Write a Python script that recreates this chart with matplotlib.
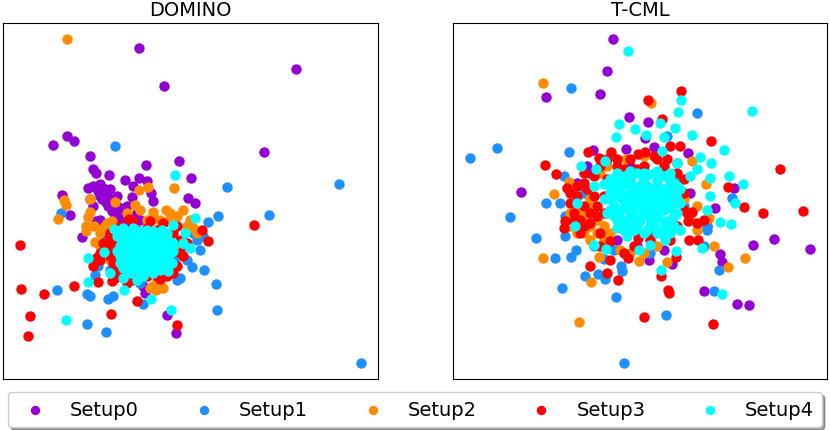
import matplotlib
matplotlib.use("Agg")
import matplotlib.pyplot as plt
import numpy as np

LABELS = ["Setup0", "Setup1", "Setup2", "Setup3", "Setup4"]
COLORS = ["darkviolet", "dodgerblue", "darkorange", "red", "cyan"]

# DOMINO embedding (2-D, arbitrary units)
domino_s0 = [(41.7, 99.2), (88.7, 93.1), (49.3, 87.9), (79.3, 68.2), (20.3, 73.1), (22.4, 71.4),
             (16.0, 70.2), (27.0, 67.1), (43.7, 64.4), (53.7, 65.4), (57.2, 60.3), (28.1, 63.0),
             (29.0, 61.8), (32.6, 61.2), (37.5, 59.9), (41.7, 60.4), (44.0, 59.6), (26.6, 57.5),
             (30.0, 58.5), (40.0, 58.0), (45.2, 56.0), (18.6, 55.2), (56.5, 54.3), (58.5, 53.0),
             (39.5, 54.8), (46.0, 53.5), (21.1, 49.5), (24.7, 42.8), (50.0, 19.5), (52.7, 14.0),
             (43.5, 26.0), (29.5, 56.5), (31, 56), (32, 55), (33, 54), (34, 53), (34.5, 52),
             (35.5, 51), (36, 50), (37, 49), (38, 48), (30, 55), (31.5, 53.5), (32.5, 52),
             (33.5, 50.5), (29, 47.5), (30, 48), (41, 50), (42, 48), (42, 29), (43, 28), (31, 44),
             (28, 58), (31, 57.5), (30.5, 54), (32, 53), (33, 52.5), (35, 52), (36, 51.5), (37, 51),
             (34.5, 49), (36, 48), (38, 47), (37.5, 46.5), (39, 49), (27, 54), (28, 52), (33, 57),
             (35, 55), (38, 52)]
domino_s1 = [(34.5, 70.0), (68.0, 57.8), (101.5, 58.5), (80.7, 49.4), (65.5, 49.2), (62.5, 47.3),
             (18.5, 50.0), (60, 39), (57.5, 33.8), (61.2, 32.8), (64.9, 28.7), (65.2, 20.8),
             (108.1, 5.0), (17.2, 26.8), (26.3, 25.8), (27, 25), (32.5, 24.2), (34, 25.2),
             (26.3, 16.8), (31.9, 14.5), (42.8, 22.7), (53, 30), (54, 30.5), (52.5, 35), (56, 36),
             (59, 42), (61, 43), (58, 44), (28.5, 31.5), (29.5, 34), (33, 33), (56, 40), (52, 36),
             (40, 30), (42, 29)]
domino_s2 = [(20.1, 102), (52.1, 57.5), (44.5, 57.8), (41.8, 56.9), (19.3, 53.7), (19.8, 52.5),
             (17.4, 48.3), (27.2, 54), (34.4, 53.2), (40.5, 52.5), (27, 50.2), (26.5, 48.8),
             (45.8, 50.3), (49.7, 51), (51, 50), (54.8, 50.9), (57, 48), (50.5, 47.5), (25.8, 44.6),
             (28.2, 46), (31.3, 45.7), (33.7, 47.5), (44, 48), (28.7, 41.2), (30, 40), (58, 45.5),
             (59, 44), (33, 36), (32, 38), (46.7, 26.8), (46, 28), (48, 29), (51, 38), (53, 39),
             (38, 50), (42, 51), (46, 49), (48, 48), (53, 49), (56, 46), (26, 46), (30, 44),
             (32, 47), (55, 42), (47, 30), (45, 27.5), (49, 27.5)]
domino_s3 = [(6.1, 40.3), (6.5, 27.2), (13.3, 25.8), (9.2, 19.1), (8.6, 13.3), (22.3, 28),
             (29.5, 29.3), (33.3, 19.7), (41, 23.7), (53, 16.5), (76.2, 46.5), (60.7, 45),
             (62.5, 41.5), (38.8, 48.2), (28, 34.2), (29, 36.5), (30, 38), (33, 39), (34, 37),
             (35, 34), (36, 32), (33.5, 29.5), (37, 31), (40, 32), (43, 33), (46, 33.5), (48, 30.2),
             (50, 34), (52, 32), (54, 38), (54, 42), (52, 44), (47, 45), (44, 45.5), (41, 45),
             (35, 43), (34, 41), (33, 42), (36, 36), (38, 34), (42, 34), (49, 32), (35.5, 33),
             (34.5, 30.5), (32, 40), (33, 37), (34, 35), (36, 31), (39, 30), (44, 31), (47, 31),
             (50, 31), (53, 34), (55, 37), (56, 41), (53, 46), (49, 47), (45, 47.5), (40, 47.5),
             (36, 46), (33, 44), (31, 41), (30, 36), (38, 29), (42, 31)]
domino_s4 = [(52.5, 61.4), (58.4, 48.5), (20, 18), (51.2, 21), (45.3, 24.2), (37.2, 26.9),
             (26.5, 29.4), (26.6, 36.4), (31.3, 38.3), (33, 32), (37, 30.5), (41, 30), (43, 31),
             (46, 32), (50.5, 32.5), (52, 46.5), (55.5, 44), (57, 39.5), (55, 41), (51.8, 40.2),
             (34.2, 45.2), (36.8, 45.5), (40, 45.5), (44, 45), (48.5, 45),
             (35, 43), (36, 40), (37, 38), (38, 36), (39, 34), (40, 43), (41, 40), (42, 38),
             (43, 36), (44, 34), (45, 42), (46, 39), (47, 37), (48, 35), (49, 43), (50, 40),
             (51, 38), (38, 42), (42, 42), (44, 39), (40, 37), (45, 36), (47, 41), (49, 38),
             (36, 37), (41, 33), (43, 42.5), (47.5, 33.5), (39.5, 39), (45.5, 37.5),
             (36.5, 41.5), (38.5, 39.5), (40.5, 41.5), (42.5, 39.5), (44.5, 41.5), (46.5, 40),
             (48.5, 41.5), (50.5, 42), (37.5, 35), (39.5, 36), (41.5, 36), (43.5, 37.5),
             (45.5, 34), (47.5, 38.5), (49.5, 35.5), (51.5, 35), (39, 44.5), (46, 44.5), (52, 41),
             (35, 38.5), (41, 44), (45, 40), (42.5, 32.5), (39, 32), (44, 32.5),
             (37, 43.5), (39, 41), (41, 42.5), (43, 40.5), (45, 43.5), (47, 42.5), (49, 40.5),
             (51, 40), (36, 39), (38, 37.5), (40, 39), (42, 36.5), (44, 37), (46, 36), (48, 37),
             (50, 37.5), (37, 33.5), (40, 34.5), (43, 34.5), (46, 34.5), (48, 33), (50, 34),
             (38, 44), (41, 38), (44, 43), (47, 44), (50, 44), (42, 44.5), (36, 35), (52, 38.5)]

# T-CML embedding
tcml_s0 = [(48.8, 101.9), (47, 92.3), (28.6, 84.6), (44.9, 85.6), (53.7, 78.7), (59.4, 77.2),
           (58.5, 72.5), (52.6, 69.2), (42.8, 68.7), (61, 69.8), (71.2, 67.8), (21.3, 56.2),
           (85.2, 57.3), (79.3, 51.4), (90.9, 40.4), (97, 42.3), (107.9, 39.1), (80.8, 37.6),
           (81.5, 35.3), (76, 26.6), (86, 22.8), (89.5, 22.3), (59.6, 36), (66.5, 34.7), (64, 39),
           (41, 64), (38, 59), (42, 62), (54, 64), (77, 46), (72, 56), (56, 40), (50, 42)]
tcml_s1 = [(5.8, 66.5), (13.9, 69.5), (36.2, 87.3), (74, 80), (35.6, 68.3), (28.6, 53.1),
           (18, 48.7), (25.6, 42.6), (31.3, 36.6), (36.2, 36.7), (37.7, 39), (33.4, 27.5),
           (40.3, 31), (44.3, 31.7), (46.5, 30.3), (49.6, 24.8), (51.2, 34), (51.5, 32.5),
           (46.2, 36.3), (64.8, 19.5), (52.2, 5), (79, 26.5), (80.5, 33), (84.5, 54.3), (77, 46),
           (77, 45), (34, 61), (33, 53), (34.5, 49), (40, 56), (34.5, 43), (60, 38), (49, 39),
           (68, 60), (65, 73), (76, 40), (43, 40), (38, 52), (70, 52)]
tcml_s2 = [(27.9, 88.9), (60.2, 83), (52.6, 66.2), (31.2, 55.6), (35.5, 59.2), (27.7, 36.6),
           (44.5, 36.7), (42.3, 29.2), (38.6, 17.3), (56.5, 35.7), (65, 35.2), (79, 40.2),
           (83.2, 33.9), (88.5, 36.6), (76.8, 58.6), (72.5, 65.5), (77.5, 48.5), (74, 45), (58, 67),
           (42, 54), (40, 48), (42, 46), (44, 48), (46, 46), (38, 52), (36, 46), (44, 44), (47, 50),
           (51, 39), (62, 40), (74, 52), (45, 62), (47, 64), (38, 48), (40, 44), (42, 42), (39, 50),
           (36, 50), (43, 50), (41, 52), (38, 44), (48, 44), (46, 42), (70, 54), (72, 48), (58, 38),
           (54, 38)]
tcml_s3 = [(69.2, 86.5), (59.3, 83.7), (63.4, 78.2), (78.3, 71.6), (28.3, 64.4), (31.6, 61.6),
           (35.1, 57.3), (99, 63.2), (105.7, 50.7), (93.7, 49.9), (88, 51.7), (83.3, 57.7),
           (41.2, 68.2), (48.3, 68.3), (44.5, 66.5), (47, 66), (50, 66.2), (56.2, 67.5), (58.5, 68.3),
           (61, 67), (66, 70), (69, 70), (65, 66), (64, 64), (68, 62), (40, 59), (38, 58), (36, 53),
           (37, 50), (39, 48), (34.5, 47.5), (34, 45.5), (39, 44), (42, 47), (45, 44), (48, 41.5),
           (42, 34), (47, 32), (50.2, 30), (53.3, 36.5), (56.3, 42.5), (63.3, 31), (65.2, 27),
           (65.5, 26), (58.2, 18.7), (78.8, 16.8), (67.6, 36.7), (71.5, 42), (74.3, 42),
           (71.3, 47.5), (74, 47), (76, 48), (72.5, 50.2), (70, 51), (44, 52), (46, 55), (43, 61),
           (41, 57), (68, 65), (70, 60), (61, 44), (65, 45), (56, 63), (52, 63),
           (40, 52), (42, 50), (38, 55), (44, 49), (40, 46), (46, 50), (36, 56), (43, 55), (47, 60),
           (45, 64), (50, 64), (54, 66), (58, 64), (62, 66), (66, 60), (70, 56), (71, 50), (68, 46),
           (66, 42), (60, 42), (55, 40), (52, 38), (48, 36), (45, 40), (37, 48), (40, 62)]
tcml_s4 = [(53.2, 98.5), (90.6, 80.4), (69.3, 83.9), (68.4, 80.2), (67.4, 75.4), (50.7, 76.6),
           (55.3, 75), (49.8, 72.8), (58.8, 73.3), (63, 77), (64, 72.8), (72.6, 73.2), (82.2, 68.9),
           (74.8, 66.7), (78.2, 65), (63.5, 68.5), (39.2, 64), (43.7, 63.1), (46.3, 65.5),
           (83.6, 61.1), (87.8, 58.5), (77.8, 60.5), (78, 55), (85.5, 53), (77, 51), (80.8, 47.3),
           (84.2, 46.8), (75.5, 39.5), (67.8, 38.5), (69, 45), (63.1, 33), (81.6, 25.8), (38, 53),
           (37.5, 46), (43, 40.5), (46.8, 39.1), (50, 45.5), (53, 43), (56.5, 39), (60, 40.5),
           (64.5, 42), (43, 58), (46, 58.5), (72, 61), (74, 63), (68, 65), (66, 62),
           (49, 60), (52, 61), (56, 62), (60, 61.5), (64, 61), (67, 59), (48, 56), (51, 57),
           (55, 58), (59, 58), (63, 57.5), (67, 56), (69, 53), (49, 52), (52, 53), (56, 54),
           (60, 54), (64, 53.5), (68, 50), (50, 48), (54, 49), (58, 50), (62, 49.5), (66, 48),
           (52, 45), (56, 46), (60, 46), (64, 45.5), (54, 52), (62, 52), (58, 56), (46, 54),
           (47, 50), (58, 44), (61, 48),
           (50.5, 58.5), (54, 60), (58, 60), (62, 59.5), (65.5, 58), (50, 55), (53.5, 55.5),
           (57.5, 56.5), (61.5, 55.5), (65.5, 55), (50.5, 50), (54, 51), (58, 52.5), (62, 51),
           (66, 51.5), (52, 47.5), (56, 48), (60, 48.5), (64, 47.5), (67, 46), (54, 44.5),
           (62, 44), (57.5, 59), (48, 58), (69, 57), (66, 44),
           (48, 60), (50, 62), (54, 62.5), (58, 62), (62, 62.5), (66, 60.5), (68, 58), (49, 57.5),
           (53, 58.5), (57, 58), (61, 57), (65, 57), (68, 54.5), (48, 54), (51, 55), (55, 55.5),
           (59, 56), (63, 55), (67, 53), (48, 51), (52, 51.5), (56, 52), (60, 52), (64, 51),
           (67, 49), (49, 49), (53, 47), (57, 47.5), (61, 46.5), (65, 46.5), (51, 46), (55, 45),
           (59, 45), (63, 44), (53, 53.5), (57, 54.5), (61, 53.5), (65, 53), (59, 50.5), (55, 50)]

panels = [
    ("DOMINO", [domino_s0, domino_s1, domino_s2, domino_s3, domino_s4], (1.0, 113.3)),
    ("T-CML", [tcml_s0, tcml_s1, tcml_s2, tcml_s3, tcml_s4], (0.8, 113.0)),
]

fig = plt.figure(figsize=(8.3, 4.31), dpi=100)
ax_rects = [[3 / 830, 51 / 431, 375 / 830, 356 / 431],
            [453 / 830, 51 / 431, 374 / 830, 356 / 431]]

handles = []
for rect, (title, series, xlim) in zip(ax_rects, panels):
    ax = fig.add_axes(rect)
    handles = []
    for pts, color, label in zip(series, COLORS, LABELS):
        arr = np.array(pts)
        h = ax.scatter(arr[:, 0], arr[:, 1], s=56, c=color, label=label, linewidths=0)
        handles.append(h)
    ax.set_xlim(*xlim)
    ax.set_ylim(0.3, 106.8)
    ax.set_xticks([])
    ax.set_yticks([])
    ax.set_title(title, fontsize=14)

fig.legend(handles, LABELS, loc="lower left", ncol=5, fontsize=14, markerscale=0.9,
           bbox_to_anchor=(8 / 830, 3 / 431, 814 / 830, 35 / 431), mode="expand",
           shadow=True, borderaxespad=0, handletextpad=0.8)

fig.savefig("out.png", dpi=100)
